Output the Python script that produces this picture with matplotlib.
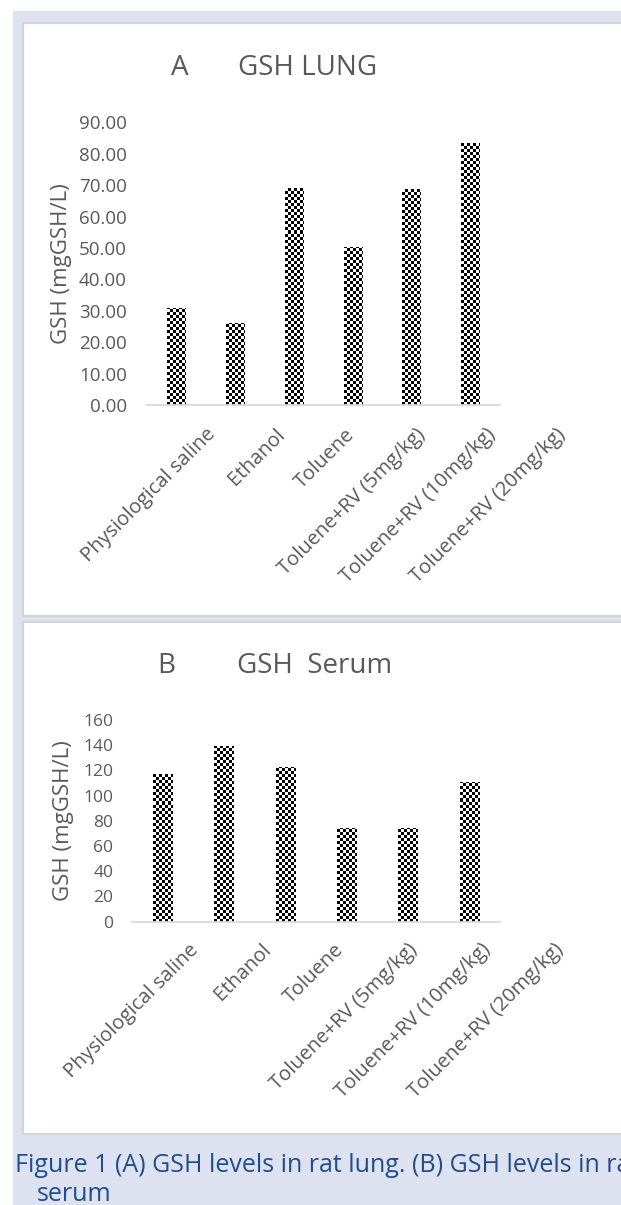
import numpy as np
import matplotlib
matplotlib.use("Agg")
from matplotlib import pyplot as plt
from matplotlib.patches import Rectangle

plt.rcParams['font.family'] = ['Open Sans', 'DejaVu Sans']

categories = ["Physiological saline", "Ethanol", "Toluene",
              "Toluene+RV (5mg/kg)", "Toluene+RV (10mg/kg)", "Toluene+RV (20mg/kg)"]
lung_gsh = [30.8, 26.0, 69.2, 50.4, 68.7, 83.5]
serum_gsh = [116.9, 139.4, 123.0, 74.3, 74.3, 110.6]
lung_ticks = np.arange(0, 91, 10)
serum_ticks = np.arange(0, 161, 20)

W, H = 621, 1205
GRAY = '#595959'

fig = plt.figure(figsize=(W / 100, H / 100), dpi=100)
fig.patch.set_facecolor('white')


def box(x0, y0, x1, y1):
    # pixel box (top-left origin) -> figure fraction rect
    return [x0 / W, 1 - y1 / H, (x1 - x0) / W, (y1 - y0) / H]


def add_rect(x0, y0, x1, y1, **kw):
    l, b, w, h = box(x0, y0, x1, y1)
    fig.patches.append(Rectangle((l, b), w, h, transform=fig.transFigure,
                                 zorder=-5, **kw))


# page background and the two white chart panels
add_rect(13, 11, 640, 1210, facecolor='#dde1f0', edgecolor='none')
add_rect(23, 23, 640, 616, facecolor='white', edgecolor='#d4d4d4', lw=1.6)
add_rect(23, 622, 640, 1134, facecolor='white', edgecolor='#d4d4d4', lw=1.6)


def checker_fill(ax, bars, cell=3):
    for bar in bars:
        x0, y0 = bar.get_xy()
        w, h = bar.get_width(), bar.get_height()
        p0 = ax.transData.transform((x0, y0))
        p1 = ax.transData.transform((x0 + w, y0 + h))
        wpx, hpx = p1 - p0
        nx = int(np.ceil(wpx / cell)) + 1
        ny = int(np.ceil(hpx / cell)) + 1
        jj, ii = np.meshgrid(np.arange(nx), np.arange(ny))
        arr = (ii + jj) % 2
        dx, dy = w / wpx, h / hpx
        im = ax.imshow(arr, cmap='gray', interpolation='nearest', origin='lower',
                       aspect='auto', vmin=0, vmax=1,
                       extent=(x0, x0 + nx * cell * dx, y0, y0 + ny * cell * dy),
                       zorder=2)
        im.set_clip_path(bar)


def panel(rect, values, ticks, fmt, tsize, ypad, lab_px0, lab_step, lab_pad,
          ylab_x, letter, letter_x, name, name_x, title_y):
    x0, y0, x1, y1 = rect
    ax = fig.add_axes(box(x0, y0, x1, y1))
    n = len(values)
    x = np.arange(n)
    bars = ax.bar(x, values, width=0.32, color='none', edgecolor='none', zorder=2)
    ax.set_xlim(-0.5, n - 0.5)
    ax.set_ylim(ticks[0], ticks[-1])
    checker_fill(ax, bars)
    ax.set_xlim(-0.5, n - 0.5)
    ax.set_ylim(ticks[0], ticks[-1])
    for s in ['top', 'right', 'left']:
        ax.spines[s].set_visible(False)
    ax.spines['bottom'].set_color('#d9d9d9')
    ax.spines['bottom'].set_linewidth(1.3)
    ax.set_xticks([])
    ax.set_yticks(ticks)
    ax.set_yticklabels([fmt % t for t in ticks])
    ax.tick_params(axis='y', length=0, pad=ypad, labelsize=tsize, labelcolor=GRAY)
    ax.set_facecolor('none')
    ax.set_ylabel("GSH (mgGSH/L)", fontsize=16, color=GRAY, va='center')
    ax.yaxis.set_label_coords((ylab_x - x0) / (x1 - x0), 0.5)

    # category labels sit on their own, wider spacing, like the source chart
    lab = fig.add_axes(box(x0, y0, 615, y1))
    lab.patch.set_visible(False)
    for s in lab.spines.values():
        s.set_visible(False)
    lab.set_yticks([])
    lab.set_xticks(x)
    lab.set_xticklabels(categories, rotation=45, ha='right', rotation_mode='anchor',
                        fontsize=14.5, color=GRAY)
    lo = -(lab_px0 - x0) / lab_step
    lab.set_xlim(lo, lo + (615 - x0) / lab_step)
    lab.tick_params(axis='x', length=0, pad=lab_pad)

    fig.text(letter_x / W, 1 - title_y / H, letter, fontsize=20, color=GRAY,
             ha='center', va='center')
    fig.text(name_x / W, 1 - title_y / H, name, fontsize=20, color=GRAY,
             ha='left', va='center')
    return ax


panel((147, 122.3, 500, 405), lung_gsh, lung_ticks, '%.2f', 13.5, 14.5,
      205, 70, 14, 62, "A", 180, "GSH LUNG", 238, 68)
panel((132, 720, 500, 921.7), serum_gsh, serum_ticks, '%d', 12.5, 13.5,
      188, 73, 13, 63, "B", 166, "GSH  Serum", 237, 666)

fig.text(15 / W, 1 - 1172 / H, "Figure 1 (A) GSH levels in rat lung. (B) GSH levels in rat",
         fontsize=18, color='#1f4e8c', ha='left', va='baseline')
fig.text(37 / W, 1 - 1201 / H, "serum", fontsize=18, color='#1f4e8c',
         ha='left', va='baseline')

fig.savefig('out.png', dpi=100)
